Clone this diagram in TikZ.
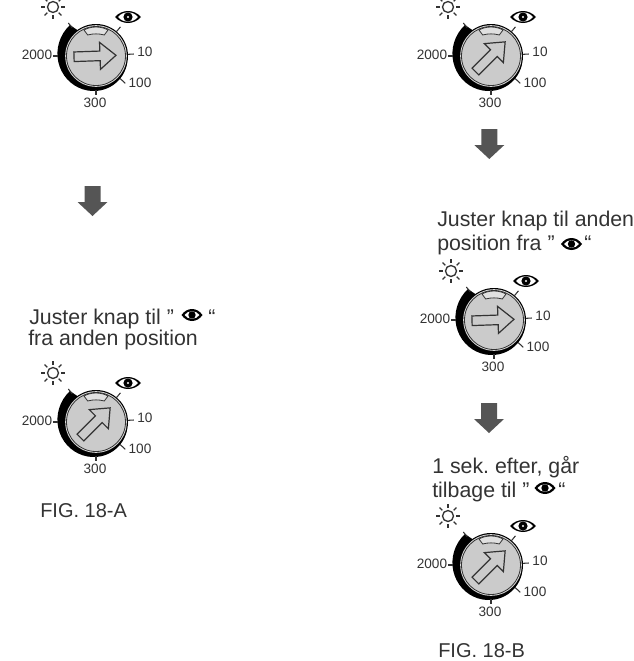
\documentclass[tikz,border=0pt]{standalone}
\usepackage{fontspec}
\setmainfont{Liberation Sans}
\usepackage{xcolor}
\definecolor{inkgrey}{HTML}{333333}
\definecolor{knobgrey}{HTML}{CBCBCB}
\definecolor{blockgrey}{HTML}{555555}
\frenchspacing
\tikzset{
  caption/.style={anchor=base west, inner sep=0pt, text=inkgrey, font=\fontsize{16}{18}\selectfont},
  figlabel/.style={caption, font=\fontsize{15}{17}\selectfont},
  scaletext/.style={inner sep=0pt, text=inkgrey, font=\fontsize{10.2}{12}\selectfont},
  tickline/.style={draw=inkgrey, line width=0.8pt},
  eyemark/.pic={
    \fill[black] (-13,0) .. controls (-6,-8) and (6,-8) .. (13,0) .. controls (6,8) and (-6,8) .. (-13,0) -- cycle;
    \fill[white] (-10,0) .. controls (-5,-6.2) and (5,-6.2) .. (10,0) .. controls (5,6.2) and (-5,6.2) .. (-10,0) -- cycle;
    \fill[black] (0,0) circle (4.6);
    \fill[white] (0,0) circle (1.1);
  },
  eyesmall/.pic={
    \fill[black] (-10.5,0) .. controls (-5,-8) and (5,-8) .. (10.5,0) .. controls (5,8) and (-5,8) .. (-10.5,0) -- cycle;
    \fill[white] (-7.5,0) .. controls (-4,-5) and (4,-5) .. (7.5,0) .. controls (4,5) and (-4,5) .. (-7.5,0) -- cycle;
    \fill[black] (0,0) circle (3.7);
  },
  sunmark/.pic={
    \draw[inkgrey, line width=1pt] (0,0) circle (5.5);
    \foreach \a in {0,45,...,315} \draw[inkgrey, line width=1pt] (\a:8) -- (\a:12);
  },
  blockarrow/.pic={
    \fill[blockgrey] (-8,-15) -- (8,-15) -- (8,1) -- (15,1) -- (0,15) -- (-15,1) -- (-8,1) -- cycle;
  },
  pics/dial/.style={code={
    % crescent and rim
    \fill[black] plot[domain=130:345, samples=30] (-\x:{40.5-8.5*(\x-130)/215}) -- cycle;
    \fill[black] (0,0) circle (32);
    \fill[white!85!black] (0,0) circle (30.8);
    \draw[inkgrey, fill=knobgrey, line width=0.6pt] (0,0) circle (29.5);
    % window at the top
    \draw[inkgrey, fill=white!88!black, line width=0.6pt] (-12,-26) -- (-8.3,-21) .. controls (-3,-22.5) and (3,-22.5) .. (8.3,-21) -- (12,-26) .. controls (5,-30) and (-5,-30) .. (-12,-26) -- cycle;
    % ticks
    \draw[tickline] (-130:37) -- (-130:43);
    \draw[tickline] (-50:31) -- (-50:38);
    \draw[tickline] (-3:32) -- (-3:38);
    \draw[tickline] (43:33) -- (43:40);
    \draw[tickline] (90:34) -- (90:39);
    \draw[tickline] (180:38) -- (180:43);
    \node[scaletext] (-high) at (-59,-1) {2000};
    \node[scaletext] (-low) at (49,-4) {10};
    \node[scaletext] (-mid) at (44,27) {100};
    \node[scaletext] (-deep) at (-1,47) {300};
    \pic at (-43,-49) {sunmark};
    \pic at (32,-39) {eyemark};
    % pointer
    \draw[inkgrey, fill=knobgrey, line width=0.9pt, rotate=#1] (-22,4.8) -- (4,4.8) -- (4,13.5) -- (20,0) -- (4,-13.5) -- (4,-4.8) -- (-22,-4.8) -- cycle;
  }}
}
\begin{document}
\begin{tikzpicture}[x=0.75pt, y=-0.75pt]
  \useasboundingbox (0,0) rectangle (633,661);
  \clip (0,0) rectangle (633,661);
  \pic (dialA) at (96,56) {dial=2};
  \pic (dialB) at (96,422) {dial=45};
  \pic (dialC) at (491,56) {dial=45};
  \pic (dialD) at (494,320) {dial=2};
  \pic (dialE) at (491,565) {dial=45};
  \pic at (92.5,201) {blockarrow};
  \pic at (489.3,144) {blockarrow};
  \pic at (489,418) {blockarrow};
  % left column
  \node[caption] (leftone) at (29,324.5) {Juster knap til ”};
  \pic at (192,315) {eyesmall};
  \node[caption] (leftquote) at (208,324.5) {“};
  \node[caption] (lefttwo) at (28,345) {fra anden position};
  \node[figlabel] (figA) at (40,517) {FIG. 18-A};
  % right column
  \node[caption] (rightone) at (437,226) {Juster knap til anden};
  \node[caption] (righttwo) at (437,250) {position fra ”};
  \pic at (571.5,244) {eyesmall};
  \node[caption] (rightquote) at (584,250) {“};
  \node[caption] (backone) at (432,473) {1 sek. efter, går};
  \node[caption] (backtwo) at (432,497) {tilbage til ”};
  \pic at (545,488) {eyesmall};
  \node[caption] (backquote) at (558,497) {“};
  \node[figlabel] (figB) at (438,657) {FIG. 18-B};
\end{tikzpicture}
\end{document}
